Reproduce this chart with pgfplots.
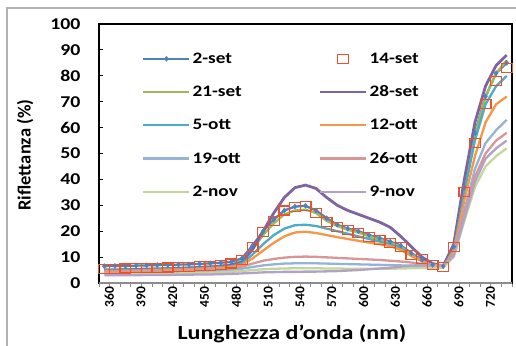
\documentclass[border=0pt]{standalone}
\usepackage{pgfplots}
\pgfplotsset{compat=1.18}
\usepackage{pgfplotstable}
\usepackage{fontspec}
\setmainfont{Carlito}[FakeStretch=1.2]
\newfontfamily\vfont{Carlito}
\definecolor{cA}{RGB}{79,129,189}
\definecolor{cB}{RGB}{240,80,40}
\definecolor{cC}{RGB}{155,187,89}
\definecolor{cD}{RGB}{128,100,162}
\definecolor{cE}{RGB}{75,172,198}
\definecolor{cF}{RGB}{247,150,70}
\definecolor{cG}{RGB}{149,179,215}
\definecolor{cH}{RGB}{217,150,148}
\definecolor{cK}{RGB}{195,214,155}
\definecolor{cM}{RGB}{179,162,199}
\pgfplotstableread{
i nm a b c d e f g h k m
0 360 6.5 5.5 5.2 5.0 4.8 4.6 4.0 4.4 3.5 3.0
1 370 6.6 5.5 5.2 5.0 4.8 4.6 4.0 4.4 3.5 3.0
2 380 6.6 5.6 5.3 5.1 4.9 4.7 4.0 4.5 3.5 3.0
3 390 6.7 5.7 5.4 5.2 5.0 4.8 4.1 4.5 3.6 3.0
4 400 6.8 5.8 5.5 5.3 5.1 4.9 4.1 4.6 3.6 3.1
5 410 6.9 5.9 5.6 5.4 5.2 5.0 4.2 4.6 3.6 3.1
6 420 7.0 6.0 5.7 5.5 5.3 5.1 4.2 4.7 3.7 3.1
7 430 7.1 6.1 5.8 5.6 5.4 5.2 4.3 4.8 3.7 3.2
8 440 7.2 6.3 5.9 5.8 5.5 5.3 4.4 4.9 3.8 3.2
9 450 7.4 6.5 6.1 6.0 5.7 5.5 4.5 5.0 3.9 3.3
10 460 7.6 6.7 6.3 6.2 5.9 5.7 4.6 5.2 4.0 3.3
11 470 7.8 7.0 6.6 6.5 6.1 5.9 4.8 5.4 4.1 3.4
12 480 8.2 7.5 7.0 7.0 6.5 6.2 5.0 5.7 4.3 3.5
13 490 9.5 9.0 8.5 8.0 7.5 7.0 5.5 6.3 4.6 3.7
14 500 14.5 14.0 13.0 13.0 11.0 9.5 6.2 7.5 5.0 3.9
15 510 20.0 19.7 18.5 20.0 15.0 12.5 6.8 8.6 5.3 4.1
16 520 24.5 24.0 23.0 27.0 18.5 15.5 7.2 9.3 5.5 4.2
17 530 28.0 28.0 26.5 33.0 21.0 18.0 7.5 9.8 5.6 4.3
18 540 29.5 29.4 28.0 36.8 22.3 19.5 7.6 10.1 5.7 4.3
19 550 29.8 29.6 28.3 37.8 22.5 19.8 7.6 10.2 5.7 4.4
20 560 28.0 27.0 27.0 36.5 22.0 19.3 7.6 10.1 5.7 4.4
21 570 25.0 23.5 24.0 33.0 21.0 18.5 7.5 9.9 5.6 4.5
22 580 22.5 21.5 22.0 30.0 20.0 17.7 7.4 9.7 5.6 4.6
23 590 21.0 20.5 20.5 28.0 19.0 17.0 7.3 9.5 5.5 4.8
24 600 20.0 19.3 19.5 26.5 18.0 16.3 7.2 9.3 5.5 5.0
25 610 18.5 17.8 18.0 25.0 17.0 15.6 7.1 9.1 5.5 5.3
26 620 17.3 16.6 16.8 23.5 16.0 15.0 7.0 8.9 5.5 5.6
27 630 16.0 15.4 15.5 21.5 15.0 14.2 6.9 8.6 5.5 5.9
28 640 14.5 14.0 14.0 18.0 13.5 12.8 6.8 8.3 5.6 6.3
29 650 11.5 10.8 11.0 14.0 10.5 10.5 6.7 7.9 5.7 6.7
30 660 9.0 9.2 8.5 10.0 8.5 8.5 6.6 7.4 5.8 7.0
31 670 7.0 7.0 6.8 7.5 6.8 6.8 6.5 7.0 5.9 7.0
32 680 6.5 6.2 6.2 6.5 6.0 6.0 6.5 6.7 6.0 6.8
33 690 14.0 14.0 13.5 15.0 13.0 12.5 11.0 11.0 10.0 10.5
34 700 37.0 35.0 36.0 40.0 35.0 32.0 28.0 27.0 24.0 25.0
35 710 58.0 54.0 57.0 62.0 55.0 49.0 44.0 41.0 37.0 39.0
36 720 72.0 69.0 72.0 76.0 69.0 62.0 54.0 50.0 45.0 48.0
37 730 81.0 78.0 81.0 84.0 76.0 69.0 59.0 55.0 49.0 52.0
38 740 85.0 83.0 86.0 88.0 80.0 72.0 63.0 58.0 52.0 55.0
}\datatab
\begin{document}
\begin{tikzpicture}[x=1pt,y=1pt]
\useasboundingbox (0,0) rectangle (516,345);
\draw[black!30, line width=1.5pt] (7,-2) -- (7,337) -- (520,337);
\begin{axis}[
  at={(99pt,62pt)}, anchor=south west,
  scale only axis, width=413pt, height=259pt,
  xmin=-0.5, xmax=38.5, ymin=0, ymax=100,
  /pgf/number format/assume math mode=true,
  ytick={0,10,...,100},
  xtick={0,3,6,9,12,15,18,21,24,27,30,33,36},
  xticklabels={360,390,420,450,480,510,540,570,600,630,660,690,720},
  minor xtick={-0.5,0.5,...,38.5},
  ytick pos=left, xtick pos=bottom,
  tick align=inside,
  major x tick style={draw=none},
  minor x tick style={black!45, line width=0.8pt, yshift=-3.5pt},
  minor tick length=3.5pt,
  major tick length=4pt,
  y tick style={black, line width=0.8pt},
  axis line style={black, line width=1.3pt},
  yticklabel style={font=\bfseries\fontsize{16.5}{16.5}\selectfont, xshift=-15pt},
  xticklabel style={font=\vfont\bfseries\fontsize{13.5}{13.5}\selectfont, rotate=90, anchor=east, yshift=-5pt},
  xlabel={Lunghezza d'onda (nm)},
  ylabel={Riflettanza (\%)},
  xlabel style={font=\bfseries\fontsize{20}{20}\selectfont, at={(axis description cs:0.467,-0.197)}, anchor=center},
  ylabel style={font=\vfont\bfseries\fontsize{18.5}{18.5}\selectfont, at={(axis description cs:-0.179,0.494)}, anchor=center, rotate=0},
  legend columns=2,
  legend cell align=left,
  legend style={draw=none, fill=none, at={(axis description cs:0.097,0.905)}, anchor=north west,
    font=\bfseries\fontsize{16}{16}\selectfont, row sep=17pt,
    /tikz/every even column/.append style={column sep=75pt}},
  legend image code/.code={\draw[mark repeat=2,mark phase=2,#1] plot coordinates {(0pt,0pt) (23pt,0pt) (46pt,0pt)};},
  every axis plot/.append style={line width=2.3pt},
]
\addplot[cA, mark=diamond*, mark size=2.5pt, mark options={line width=0.5pt}] table[x=i,y=a] {\datatab};
\addlegendentry{2-set}
\addplot[cB, only marks, mark=square, mark size=4.5pt, mark options={xscale=1.2, line width=1.2pt}] table[x=i,y=b] {\datatab};
\addlegendentry{14-set}
\addplot[cC] table[x=i,y=c] {\datatab};
\addlegendentry{21-set}
\addplot[cD, line width=2.8pt] table[x=i,y=d] {\datatab};
\addlegendentry{28-set}
\addplot[cE] table[x=i,y=e] {\datatab};
\addlegendentry{5-ott}
\addplot[cF] table[x=i,y=f] {\datatab};
\addlegendentry{12-ott}
\addplot[cG] table[x=i,y=g] {\datatab};
\addlegendentry{19-ott}
\addplot[cH] table[x=i,y=h] {\datatab};
\addlegendentry{26-ott}
\addplot[cK] table[x=i,y=k] {\datatab};
\addlegendentry{2-nov}
\addplot[cM] table[x=i,y=m] {\datatab};
\addlegendentry{9-nov}
\draw[black!45, line width=1.3pt] (rel axis cs:0,0) -- (rel axis cs:1,0);
\end{axis}
\end{tikzpicture}
\end{document}
